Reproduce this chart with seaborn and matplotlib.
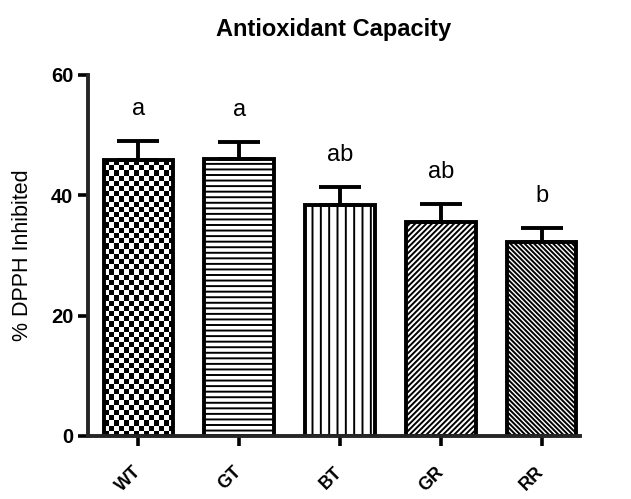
import numpy as np
import seaborn as sns
import matplotlib
matplotlib.use("Agg")
import matplotlib.pyplot as plt

groups = ["WT", "GT", "BT", "GR", "RR"]
means = [45.8, 46.0, 38.4, 35.6, 32.2]
errors = [3.3, 2.8, 3.0, 3.0, 2.4]
letters = ["a", "a", "ab", "ab", "b"]
hatches = [None, "---", "||", "//////", "\\\\\\\\\\\\\\"]

sns.set_style("ticks")
plt.rcParams["font.family"] = ["Liberation Sans", "DejaVu Sans"]
plt.rcParams["hatch.linewidth"] = 1.4
for k in ["text.color", "axes.labelcolor", "xtick.color", "ytick.color"]:
    plt.rcParams[k] = "black"

fig = plt.figure(figsize=(6.31, 4.99), dpi=100)
ax = fig.add_axes([0.1395, 0.1263, 0.7795, 0.7234])

sns.barplot(x=groups, y=means, color="white", edgecolor="black",
            linewidth=2.8, width=0.69, ax=ax)

for patch, h in zip(ax.patches, hatches):
    if h:
        patch.set_hatch(h)

# checkerboard for WT, clipped to the bar itself
wt = ax.patches[0]
bx, by = wt.get_x(), wt.get_y()
bw, bh = wt.get_width(), wt.get_height()
ny = int(round(bh / 60 * 361 / 5.2))
checker = (np.indices((ny, 14)).sum(axis=0) % 2).astype(float)
img = ax.imshow(checker, cmap="gray", extent=[bx, bx + bw, by, by + bh],
                aspect="auto", interpolation="nearest", zorder=wt.get_zorder())
img.set_clip_path(wt)
wt.set_zorder(wt.get_zorder() + 0.1)
wt.set_facecolor("none")

ax.errorbar(x=np.arange(len(groups)), y=means,
            yerr=[np.zeros(len(errors)), errors], fmt="none",
            ecolor="black", elinewidth=2.8, capsize=15, capthick=2.8, zorder=1)

for i, (m, e, lab) in enumerate(zip(means, errors, letters)):
    ax.text(i, m + e + 5.3, lab, ha="center", va="center", fontsize=17)

ax.set_xlim(-0.5, 4.38)
ax.set_ylim(0, 60)
ax.set_yticks([0, 20, 40, 60])
ax.set_title("Antioxidant Capacity", fontsize=17, fontweight="bold", pad=28)
ax.set_ylabel("% DPPH Inhibited", fontsize=15.5, labelpad=13)
ax.set_xlabel("")
ax.tick_params(axis="both", width=2.6, length=7, color="black")
ax.tick_params(axis="x", pad=17)
plt.setp(ax.get_xticklabels(), rotation=45, ha="right", va="center",
         rotation_mode="anchor", fontweight="bold", fontsize=13)
plt.setp(ax.get_yticklabels(), fontweight="bold", fontsize=14.5)
for s in ["left", "bottom"]:
    ax.spines[s].set_linewidth(2.8)
sns.despine(ax=ax)

fig.savefig("out.png", dpi=100)
